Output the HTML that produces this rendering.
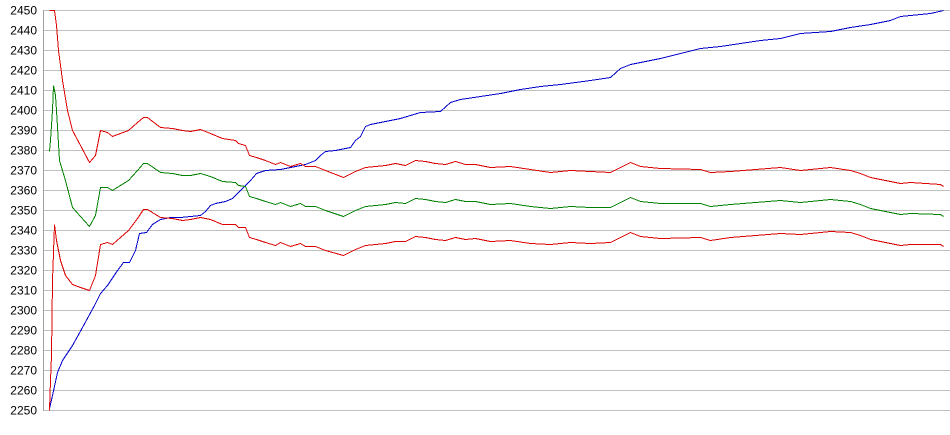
<!DOCTYPE html>
<html><head><meta charset="utf-8"><style>
html,body{margin:0;padding:0;background:#fff;width:950px;height:435px;overflow:hidden}
svg{display:block}
text{font-family:"Liberation Sans",sans-serif;font-size:12px;fill:#000}
</style></head><body>
<svg id="s" width="950" height="435" xmlns="http://www.w3.org/2000/svg">
<g id="grid"></g>
<line x1="43.5" y1="10" x2="43.5" y2="411" stroke="#a0a0a0"/>
<polyline id="blue" fill="none" stroke="#0000cc" stroke-width="1" shape-rendering="optimizeSpeed"/>
<polyline id="green" fill="none" stroke="#008000" stroke-width="1" shape-rendering="optimizeSpeed"/>
<polyline id="r1" fill="none" stroke="#dd0000" stroke-width="1" shape-rendering="optimizeSpeed"/>
<polyline id="r2" fill="none" stroke="#dd0000" stroke-width="1" shape-rendering="optimizeSpeed"/>
</svg>
<script>
var NS="http://www.w3.org/2000/svg",g=document.getElementById("grid");
for(var i=0;i<=20;i++){var y=10.5+i*20,v=2450-i*10;
var l=document.createElementNS(NS,"line");l.setAttribute("x1",43);l.setAttribute("x2",950);l.setAttribute("y1",y);l.setAttribute("y2",y);l.setAttribute("stroke","#c0c0c0");g.appendChild(l);
var t=document.createElementNS(NS,"text");t.setAttribute("x",37);t.setAttribute("y",y+4);t.setAttribute("text-anchor","end");t.textContent=v;g.appendChild(t);}
function P(a){return a.map(function(p){return (p[0]+0.5)+","+(p[1]+0.5)}).join(" ")}
var blue=[[49,408],[52,395],[57,372],[62,360],[72,345],[82,327],[94,305],[100,293],[107,285],[117,270],[123,262],[129,262],[135,250],[139,233],[146,232],[152,224],[160,219],[170,217],[180,217],[190,216],[200,215],[205,211],[210,205],[215,203],[225,201],[232,198],[240,190],[250,180],[256,173],[265,170],[280,169],[290,167],[305,164],[315,160],[320,155],[325,151],[335,150],[350,147],[355,140],[360,136],[365,126],[370,124],[380,122],[400,118],[420,112],[440,111],[450,102],[460,99],[480,96],[500,93],[520,89],[540,86],[560,84],[590,80],[610,77],[620,68],[630,64],[660,58],[680,53],[700,48],[720,46],[740,43],[760,40],[780,38],[800,33],[830,31],[850,27],[870,24],[890,20],[900,16],[930,13],[943,10]];
var gr=[[72,207],[80,216],[89,226],[95,215],[100,187],[107,187],[112,190],[128,180],[137,170],[143,163],[147,163],[160,172],[172,173],[182,175],[190,175],[200,173],[210,176],[222,181],[235,182],[238,185],[245,186],[249,196],[256,198],[265,201],[275,204],[280,202],[290,206],[300,203],[305,206],[315,206],[325,210],[343,216],[355,210],[360,208],[365,206],[375,205],[385,204],[395,202],[405,203],[415,198],[425,199],[435,201],[445,202],[455,199],[465,201],[475,201],[490,204],[510,203],[530,206],[550,208],[570,206],[590,207],[610,207],[630,197],[640,201],[660,203],[700,203],[710,206],[730,204],[780,200],[800,202],[830,199],[850,201],[860,204],[870,208],[890,212],[900,214],[910,213],[940,214],[943,216]];
var W=[[72,77],[89,64],[100,57],[145,46],[200,44],[250,41],[300,40],[630,35],[943,30]];
function w(x){for(var i=1;i<W.length;i++)if(x<=W[i][0]){var a=W[i-1],b=W[i];return a[1]+(b[1]-a[1])*(x-a[0])/(b[0]-a[0]);}return 30;}
var ge=[[49,151],[50,140],[52,110],[53,85],[55,95],[56,110],[59,160],[65,180]];
var ue=[[49,10],[54,10],[56,25],[58,50],[62,80],[67,110]];
var le=[[49,410],[50,380],[51,355],[52,280],[54,224],[56,240],[60,260],[65,275]];
var up=gr.map(function(p){return [p[0],Math.round(p[1]-w(p[0]))]}),lo=gr.map(function(p){return [p[0],Math.round(p[1]+w(p[0]))]});
document.getElementById("blue").setAttribute("points",P(blue));
document.getElementById("green").setAttribute("points",P(ge.concat(gr)));
document.getElementById("r1").setAttribute("points",P(ue.concat(up)));
document.getElementById("r2").setAttribute("points",P(le.concat(lo)));
</script>
</body></html>
